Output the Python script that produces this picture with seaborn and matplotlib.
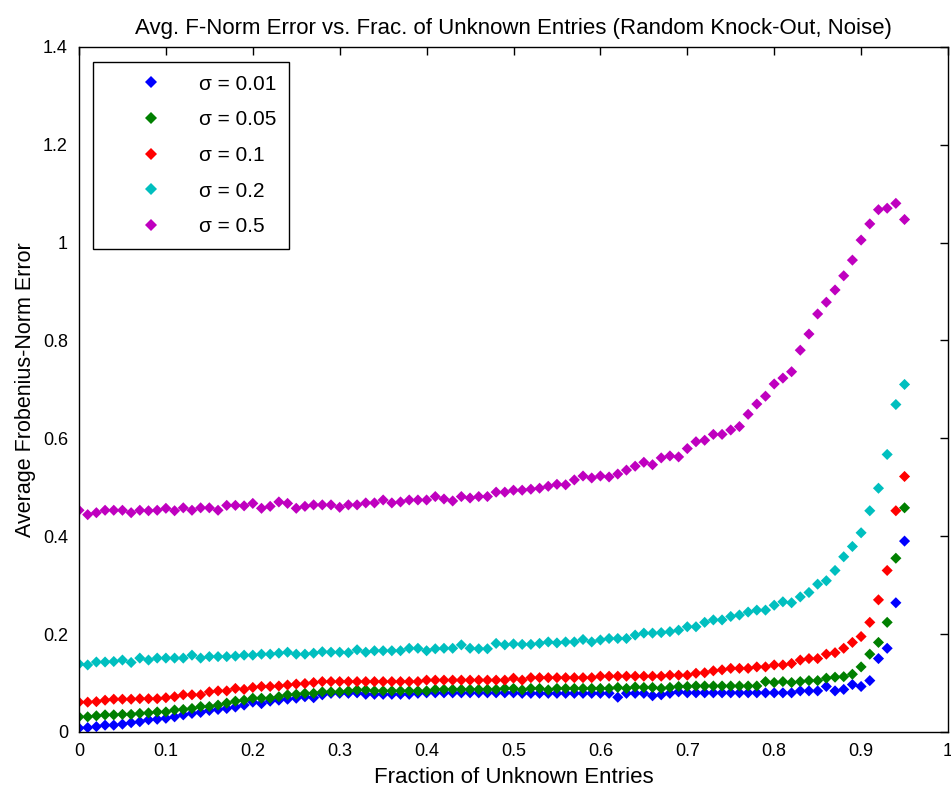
import numpy as np
import pandas as pd
import matplotlib
matplotlib.use("Agg")
import matplotlib.pyplot as plt
import seaborn as sns

# ---- data ----
frac_unknown = [round(i * 0.01, 2) for i in range(96)]

err_s001 = [0.008,0.009,0.011,0.014,0.014,0.016,0.019,0.021,0.025,0.026,
            0.028,0.031,0.035,0.038,0.040,0.044,0.046,0.048,0.051,0.055,
            0.061,0.058,0.063,0.065,0.067,0.069,0.072,0.070,0.076,0.079,
            0.079,0.079,0.080,0.077,0.077,0.077,0.077,0.077,0.077,0.079,
            0.080,0.080,0.080,0.080,0.080,0.080,0.080,0.080,0.080,0.080,
            0.080,0.079,0.079,0.079,0.079,0.079,0.079,0.079,0.079,0.079,
            0.079,0.079,0.071,0.079,0.079,0.079,0.074,0.076,0.079,0.082,
            0.080,0.080,0.080,0.080,0.080,0.080,0.080,0.080,0.080,0.080,
            0.080,0.080,0.080,0.084,0.084,0.084,0.093,0.084,0.087,0.097,
            0.093,0.105,0.150,0.171,0.264,0.390]

err_s005 = [0.031,0.031,0.033,0.035,0.035,0.036,0.036,0.038,0.039,0.041,
            0.041,0.045,0.046,0.048,0.052,0.052,0.055,0.059,0.063,0.065,
            0.069,0.069,0.069,0.072,0.076,0.077,0.079,0.079,0.082,0.082,
            0.082,0.084,0.086,0.086,0.084,0.084,0.084,0.084,0.084,0.084,
            0.084,0.087,0.087,0.087,0.087,0.087,0.087,0.087,0.087,0.089,
            0.089,0.086,0.089,0.089,0.086,0.089,0.089,0.089,0.089,0.089,
            0.089,0.089,0.091,0.089,0.092,0.091,0.091,0.089,0.091,0.093,
            0.093,0.094,0.094,0.094,0.094,0.094,0.094,0.094,0.094,0.103,
            0.101,0.103,0.101,0.103,0.105,0.105,0.110,0.112,0.113,0.118,
            0.133,0.159,0.183,0.224,0.355,0.458]

err_s01 = [0.061,0.061,0.062,0.065,0.067,0.067,0.067,0.068,0.068,0.068,
           0.070,0.072,0.076,0.076,0.076,0.082,0.084,0.084,0.089,0.087,
           0.091,0.093,0.093,0.094,0.096,0.098,0.099,0.101,0.103,0.103,
           0.103,0.103,0.103,0.103,0.103,0.103,0.103,0.103,0.103,0.103,
           0.106,0.106,0.106,0.106,0.106,0.106,0.106,0.106,0.106,0.106,
           0.110,0.106,0.111,0.111,0.111,0.111,0.111,0.111,0.111,0.111,
           0.114,0.114,0.114,0.114,0.114,0.114,0.114,0.114,0.116,0.116,
           0.116,0.120,0.121,0.125,0.127,0.130,0.130,0.130,0.133,0.133,
           0.137,0.137,0.140,0.147,0.150,0.150,0.159,0.162,0.171,0.183,
           0.195,0.224,0.270,0.330,0.452,0.522]

err_s02 = [0.139,0.137,0.143,0.143,0.144,0.147,0.142,0.151,0.147,0.151,
           0.151,0.151,0.151,0.157,0.151,0.154,0.154,0.154,0.155,0.157,
           0.157,0.159,0.159,0.161,0.163,0.159,0.159,0.161,0.164,0.163,
           0.163,0.162,0.168,0.163,0.166,0.166,0.166,0.166,0.171,0.171,
           0.166,0.170,0.171,0.171,0.178,0.171,0.170,0.170,0.181,0.178,
           0.180,0.179,0.179,0.181,0.184,0.182,0.184,0.184,0.189,0.184,
           0.188,0.191,0.191,0.191,0.198,0.202,0.202,0.203,0.205,0.208,
           0.215,0.215,0.224,0.229,0.229,0.236,0.239,0.245,0.249,0.249,
           0.259,0.266,0.264,0.276,0.285,0.302,0.309,0.330,0.358,0.379,
           0.407,0.452,0.498,0.567,0.669,0.710]

err_s05 = [0.453,0.444,0.448,0.453,0.453,0.453,0.448,0.453,0.452,0.453,
           0.457,0.452,0.458,0.453,0.458,0.458,0.453,0.463,0.463,0.462,
           0.467,0.457,0.461,0.470,0.467,0.457,0.461,0.464,0.464,0.464,
           0.459,0.464,0.464,0.468,0.468,0.474,0.468,0.470,0.474,0.474,
           0.474,0.481,0.476,0.472,0.481,0.478,0.481,0.481,0.490,0.490,
           0.494,0.494,0.496,0.498,0.502,0.506,0.505,0.515,0.523,0.519,
           0.523,0.521,0.527,0.535,0.543,0.551,0.546,0.560,0.564,0.562,
           0.579,0.593,0.596,0.608,0.608,0.617,0.624,0.649,0.670,0.686,
           0.711,0.723,0.736,0.780,0.813,0.854,0.878,0.903,0.932,0.964,
           1.005,1.038,1.067,1.070,1.080,1.047]

series_labels = ["σ = 0.01", "σ = 0.05", "σ = 0.1", "σ = 0.2", "σ = 0.5"]
series_values = [err_s001, err_s005, err_s01, err_s02, err_s05]
series_colors = ["#0000ff", "#008000", "#ff0000", "#00bfbf", "#bf00bf"]

x_ticks = [0, 0.1, 0.2, 0.3, 0.4, 0.5, 0.6, 0.7, 0.8, 0.9, 1]
x_ticklabels = ["0", "0.1", "0.2", "0.3", "0.4", "0.5", "0.6", "0.7", "0.8", "0.9", "1"]
y_ticks = [0, 0.2, 0.4, 0.6, 0.8, 1.0, 1.2, 1.4]
y_ticklabels = ["0", "0.2", "0.4", "0.6", "0.8", "1", "1.2", "1.4"]

df = pd.concat(
    [pd.DataFrame({"frac": frac_unknown, "err": vals, "sigma": lab})
     for lab, vals in zip(series_labels, series_values)],
    ignore_index=True)

# ---- style ----
sns.set_theme(style="white")
plt.rcParams["font.family"] = ["Liberation Sans", "DejaVu Sans"]
plt.rcParams["axes.edgecolor"] = "black"
plt.rcParams["axes.linewidth"] = 1.0
plt.rcParams["text.color"] = "black"
plt.rcParams["axes.labelcolor"] = "black"
plt.rcParams["xtick.color"] = "black"
plt.rcParams["ytick.color"] = "black"

fig = plt.figure(figsize=(9.51, 7.94), dpi=100)
ax = fig.add_axes([79 / 951, 1 - 732 / 794, 869 / 951, (732 - 46.7) / 794])

sns.scatterplot(data=df, x="frac", y="err", hue="sigma",
                hue_order=series_labels,
                palette=dict(zip(series_labels, series_colors)),
                marker="D", s=32, linewidth=0, ax=ax)

ax.set_xlim(0, 1)
ax.set_ylim(0, 1.4)
ax.set_xticks(x_ticks)
ax.set_xticklabels(x_ticklabels)
ax.set_yticks(y_ticks)
ax.set_yticklabels(y_ticklabels)
ax.tick_params(direction="in", top=True, right=True, length=6, width=1,
               labelsize=13, colors="black", pad=8)
for sp in ax.spines.values():
    sp.set_visible(True)
    sp.set_color("black")
    sp.set_linewidth(1.0)

ax.set_xlabel("Fraction of Unknown Entries", fontsize=16, labelpad=5)
ax.set_ylabel("Average Frobenius-Norm Error", fontsize=15.5, labelpad=5)
ax.set_title("Avg. F-Norm Error vs. Frac. of Unknown Entries (Random Knock-Out, Noise)",
             fontsize=16, pad=9)

sns.move_legend(ax, loc="upper left", bbox_to_anchor=(14 / 869, 1 - 15 / 685),
                title=None, frameon=True, fancybox=False, fontsize=15,
                borderpad=0.62, handlelength=4.3, handletextpad=0.15,
                labelspacing=0.8, borderaxespad=0, markerscale=1.0)
leg = ax.get_legend()
leg.get_frame().set_edgecolor("black")
leg.get_frame().set_linewidth(1.0)
leg.get_frame().set_alpha(1)

fig.savefig("out.png", dpi=100)
